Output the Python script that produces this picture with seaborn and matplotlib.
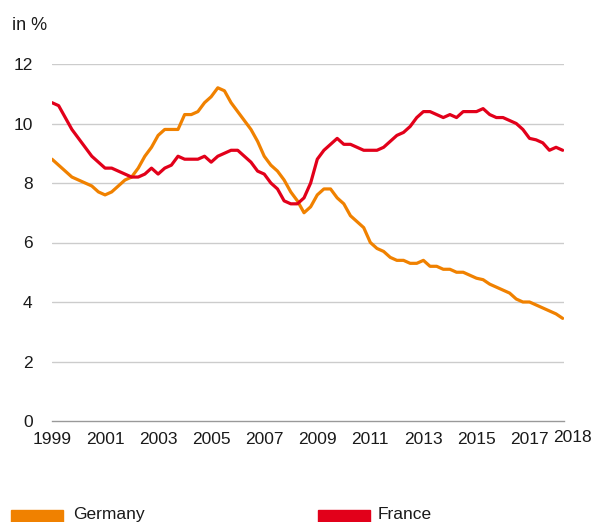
import numpy as np
import pandas as pd
import matplotlib
matplotlib.use("Agg")
import matplotlib.pyplot as plt
import matplotlib.transforms as mtrans
import seaborn as sns
from matplotlib.patches import Rectangle

# quarterly unemployment rate, in %, 1999 Q1 .. 2018 Q2
germany = [8.8, 8.6, 8.4, 8.2, 8.1, 8.0, 7.9, 7.7, 7.6, 7.7, 7.9, 8.1,
           8.2, 8.5, 8.9, 9.2, 9.6, 9.8, 9.8, 9.8, 10.3, 10.3, 10.4, 10.7,
           10.9, 11.2, 11.1, 10.7, 10.4, 10.1, 9.8, 9.4, 8.9, 8.6, 8.4, 8.1,
           7.7, 7.4, 7.0, 7.2, 7.6, 7.8, 7.8, 7.5, 7.3, 6.9, 6.7, 6.5,
           6.0, 5.8, 5.7, 5.5, 5.4, 5.4, 5.3, 5.3, 5.4,
           5.2, 5.2, 5.1, 5.1, 5.0, 5.0, 4.9, 4.8, 4.75, 4.6, 4.5, 4.4,
           4.3, 4.1, 4.0, 4.0, 3.9, 3.8, 3.7, 3.6, 3.45]

france = [10.7, 10.6, 10.2, 9.8, 9.5, 9.2, 8.9, 8.7, 8.5, 8.5, 8.4, 8.3,
          8.2, 8.2, 8.3, 8.5, 8.3, 8.5, 8.6, 8.9, 8.8, 8.8, 8.8, 8.9,
          8.7, 8.9, 9.0, 9.1, 9.1, 8.9, 8.7, 8.4, 8.3, 8.0, 7.8, 7.4,
          7.3, 7.3, 7.5, 8.0, 8.8, 9.1, 9.3, 9.5, 9.3, 9.3, 9.2, 9.1,
          9.1, 9.1, 9.2, 9.4, 9.6, 9.7, 9.9, 10.2, 10.4,
          10.4, 10.3, 10.2, 10.3, 10.2, 10.4, 10.4, 10.4, 10.5, 10.3, 10.2,
          10.2, 10.1, 10.0, 9.8, 9.5, 9.45, 9.35, 9.1, 9.2, 9.1]

quarters = 1999 + 0.25 * np.arange(len(germany))

year_ticks = [1999, 2001, 2003, 2005, 2007, 2009, 2011, 2013, 2015, 2017, 2018.3]
year_labels = ["1999", "2001", "2003", "2005", "2007", "2009", "2011",
               "2013", "2015", "2017", "2018"]
y_ticks = [0, 2, 4, 6, 8, 10, 12]

colors = {"Germany": "#F08100", "France": "#E2001A"}

df = pd.DataFrame({
    "year": np.concatenate([quarters, quarters]),
    "rate": germany + france,
    "country": ["Germany"] * len(germany) + ["France"] * len(france),
})

sns.set_style("white")
plt.rcParams["font.family"] = ["Liberation Sans", "DejaVu Sans"]

fig = plt.figure(figsize=(5.95, 5.22), dpi=100)
ax = fig.add_axes([52 / 595, 1 - 421 / 522, (564 - 52) / 595, (421 - 64) / 522])

sns.lineplot(data=df, x="year", y="rate", hue="country", palette=colors,
             linewidth=2.3, legend=False, ax=ax, zorder=3)

ax.set_xlim(1999, 2018.3)
ax.set_ylim(0, 12)
ax.set_xticks(year_ticks)
ax.set_xticklabels(year_labels)
ax.set_yticks(y_ticks)
ax.set_yticklabels([str(y) for y in y_ticks])
ax.set_xlabel("")
ax.set_ylabel("")

for y in y_ticks[1:]:
    ax.axhline(y, color="#cccccc", linewidth=1.0, zorder=1)

for s in ["top", "right", "left"]:
    ax.spines[s].set_visible(False)
ax.spines["bottom"].set_color("#999999")
ax.spines["bottom"].set_linewidth(1.0)

ax.tick_params(axis="x", direction="out", length=5, width=1, color="#999999",
               labelsize=12.5, pad=3, labelcolor="#1a1a1a")
ax.tick_params(axis="y", length=0, labelsize=12.5, pad=14, labelcolor="#1a1a1a")

# last label sits a bit to the right and slightly higher, as in the original
last = ax.get_xticklabels()[-1]
last.set_transform(last.get_transform() +
                   mtrans.ScaledTranslation(8 / 100, 2 / 100, fig.dpi_scale_trans))

fig.text(12 / 595, 1 - 25 / 522, "in %", fontsize=13, color="#1a1a1a", va="center")

# legend at the bottom
fig.patches.append(Rectangle((11 / 595, 0), 52 / 595, 12 / 522,
                             transform=fig.transFigure, color=colors["Germany"]))
fig.text(73 / 595, 1 - 519 / 522, "Germany", fontsize=12.5, va="baseline", color="#1a1a1a")
fig.patches.append(Rectangle((318 / 595, 0), 52 / 595, 12 / 522,
                             transform=fig.transFigure, color=colors["France"]))
fig.text(378 / 595, 1 - 519 / 522, "France", fontsize=12.5, va="baseline", color="#1a1a1a")

fig.savefig("out.png", dpi=100)
